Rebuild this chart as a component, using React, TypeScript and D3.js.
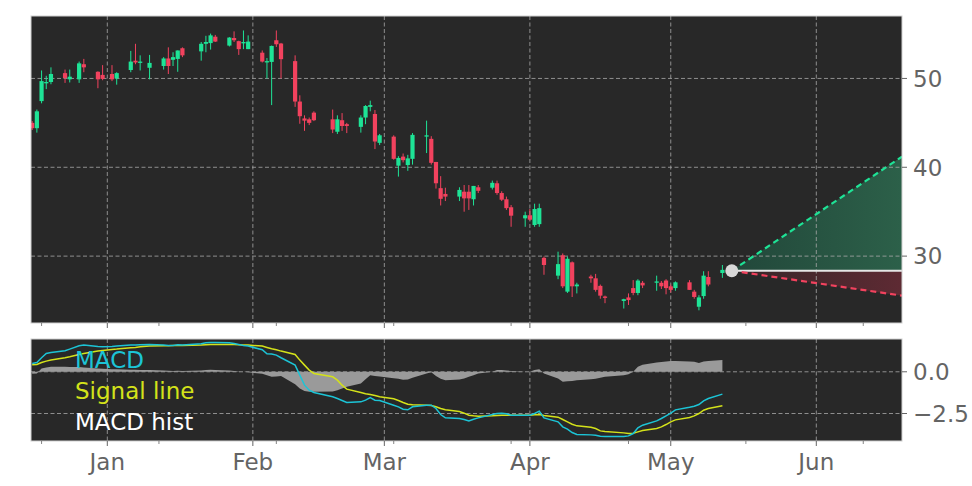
import React from 'react';
import * as d3 from 'd3';

const dates = [
  '2024-12-16','2024-12-17','2024-12-18','2024-12-19','2024-12-20','2024-12-23','2024-12-24','2024-12-26','2024-12-27','2024-12-30',
  '2024-12-31','2025-01-02','2025-01-03','2025-01-06','2025-01-07','2025-01-08','2025-01-10','2025-01-13','2025-01-14','2025-01-15',
  '2025-01-16','2025-01-17','2025-01-21','2025-01-22','2025-01-23','2025-01-24','2025-01-27','2025-01-28','2025-01-29','2025-01-30',
  '2025-01-31','2025-02-03','2025-02-04','2025-02-05','2025-02-06','2025-02-07','2025-02-10','2025-02-11','2025-02-12','2025-02-13',
  '2025-02-14','2025-02-18','2025-02-19','2025-02-20','2025-02-21','2025-02-24','2025-02-25','2025-02-26','2025-02-27','2025-02-28',
  '2025-03-03','2025-03-04','2025-03-05','2025-03-06','2025-03-07','2025-03-10','2025-03-11','2025-03-12','2025-03-13','2025-03-14',
  '2025-03-17','2025-03-18','2025-03-19','2025-03-20','2025-03-21','2025-03-24','2025-03-25','2025-03-26','2025-03-27','2025-03-28',
  '2025-03-31','2025-04-01','2025-04-02','2025-04-03','2025-04-04','2025-04-07','2025-04-08','2025-04-09','2025-04-10','2025-04-11',
  '2025-04-14','2025-04-15','2025-04-16','2025-04-17','2025-04-21','2025-04-22','2025-04-23','2025-04-24','2025-04-25','2025-04-28',
  '2025-04-29','2025-04-30','2025-05-01','2025-05-02','2025-05-05','2025-05-06','2025-05-07','2025-05-08','2025-05-09','2025-05-12'
];

const opens = [
  45.0, 44.4, 47.45, 49.45, 49.6, 50.6, 49.9, 49.9, 51.6, 50.75,
  50.4, 50.5, 50.0, 50.95, 52.0, 51.75, 51.2, 51.4, 52.25, 52.1,
  52.2, 53.4, 53.05, 53.9, 53.98, 54.7, 53.7, 54.55, 54.2, 53.95,
  53.3, 52.9, 51.8, 51.86, 54.3, 53.93, 51.95, 47.4, 45.5, 45.4,
  46.15, 45.4, 44.0, 45.3, 44.85, 44.55, 45.6, 46.8, 46.0, 42.75,
  43.45, 40.18, 41.2, 40.25, 40.95, 43.45, 43.2, 40.6, 37.65, 37.0,
  36.7, 37.25, 37.25, 36.4, 37.75, 37.7, 38.2, 37.1, 36.4, 35.5,
  34.25, 34.6, 33.5, 33.6, 29.8, 27.8, 30.1, 26.0, 29.3, 26.6,
  27.7, 27.5, 26.65, 25.45, 24.95, 25.35, 26.4, 25.85, 27.0, 27.0,
  27.0, 27.25, 26.6, 26.4, 27.05, 26.0, 24.3, 25.5, 27.65, 28.1
];

const highs = [
  45.2, 46.5, 50.9, 50.3, 51.25, 51.0, 51.0, 51.9, 52.2, 50.8,
  51.5, 51.5, 50.7, 53.1, 53.9, 52.6, 52.65, 52.4, 53.5, 52.95,
  53.15, 53.5, 54.1, 54.8, 55.05, 54.9, 54.65, 55.3, 54.25, 55.4,
  54.85, 53.15, 52.3, 53.7, 55.4, 54.0, 52.6, 48.1, 45.85, 45.6,
  46.3, 46.5, 45.85, 46.1, 45.0, 45.85, 47.0, 47.5, 46.45, 43.75,
  43.6, 41.25, 41.55, 41.4, 43.85, 45.25, 43.5, 40.6, 39.0, 37.7,
  37.75, 38.0, 38.0, 37.9, 38.0, 38.5, 38.5, 37.3, 36.7, 35.75,
  35.0, 35.3, 35.9, 35.9, 29.95, 30.5, 30.3, 29.95, 29.4, 27.0,
  27.9, 28.0, 26.8, 25.55, 25.2, 25.8, 27.3, 27.4, 27.2, 27.8,
  27.2, 27.4, 26.8, 27.15, 27.3, 26.2, 25.6, 28.3, 28.3, 29.0
];

const lows = [
  44.2, 43.9, 47.2, 48.8, 49.35, 49.5, 49.55, 49.5, 50.7, 48.9,
  49.8, 49.7, 49.3, 50.7, 51.6, 50.9, 49.9, 51.0, 50.5, 51.4,
  50.75, 52.4, 52.0, 52.95, 53.25, 54.1, 53.6, 54.1, 52.65, 53.3,
  53.3, 51.8, 50.0, 47.0, 53.55, 50.0, 46.8, 44.9, 44.1, 44.75,
  45.2, 43.85, 43.75, 44.1, 43.85, 43.9, 44.85, 46.3, 42.05, 42.5,
  40.85, 38.95, 40.55, 39.6, 40.3, 41.6, 40.3, 37.6, 35.7, 36.2,
  36.2, 35.0, 35.2, 35.7, 37.1, 37.5, 36.9, 36.2, 35.2, 33.3,
  33.3, 34.0, 33.3, 33.3, 27.9, 27.4, 26.4, 25.85, 25.4, 25.8,
  27.0, 26.0, 25.2, 24.7, 24.1, 24.5, 25.6, 25.6, 26.4, 26.1,
  26.3, 25.7, 25.9, 26.1, 26.2, 25.2, 23.9, 25.2, 26.6, 27.55
];

const closes = [
  44.4, 46.3, 49.7, 49.6, 50.5, 50.05, 50.2, 51.7, 51.25, 49.9,
  49.95, 49.9, 50.6, 51.9, 51.8, 51.9, 51.75, 52.25, 51.4, 52.4,
  53.15, 52.6, 53.9, 54.1, 54.85, 54.15, 54.6, 54.3, 53.3, 54.1,
  54.15, 51.9, 51.95, 53.66, 53.85, 52.17, 47.4, 45.75, 45.25, 45.0,
  45.3, 44.25, 45.4, 44.65, 44.65, 45.6, 46.9, 47.0, 42.9, 43.6,
  40.95, 41.05, 40.8, 41.0, 43.65, 43.6, 40.5, 38.2, 36.45, 36.7,
  37.45, 36.5, 36.5, 37.9, 37.35, 38.25, 37.1, 36.35, 35.4, 34.55,
  34.6, 34.1, 35.3, 35.4, 29.0, 29.1, 26.6, 29.7, 26.6, 26.8,
  27.5, 26.2, 25.55, 25.3, 25.15, 25.05, 25.85, 27.25, 26.7, 27.15,
  26.6, 26.4, 26.2, 27.05, 26.2, 25.4, 25.35, 27.8, 26.8, 28.45
];

const macdLine = [
  0.5, 0.56, 0.84, 1.1, 1.16, 1.26, 1.36, 1.56, 1.6, 1.52,
  1.5, 1.52, 1.54, 1.6, 1.6, 1.62, 1.64, 1.6, 1.58, 1.58,
  1.62, 1.6, 1.68, 1.74, 1.76, 1.76, 1.74, 1.7, 1.64, 1.58,
  1.54, 1.32, 1.08, 1.06, 1.0, 0.84, 0.4, -0.2, -0.8, -1.1,
  -1.24, -1.5, -1.6, -1.72, -1.84, -1.8, -1.7, -1.54, -1.7, -1.72,
  -2.0, -2.1, -2.24, -2.28, -2.1, -2.0, -2.0, -2.2, -2.56, -2.76,
  -2.8, -2.86, -2.94, -2.84, -2.76, -2.56, -2.5, -2.48, -2.52, -2.6,
  -2.6, -2.6, -2.5, -2.36, -2.76, -3.0, -3.3, -3.44, -3.64, -3.76,
  -3.78, -3.8, -3.86, -3.88, -3.88, -3.84, -3.7, -3.36, -3.2, -2.94,
  -2.8, -2.64, -2.48, -2.28, -2.12, -2.06, -1.96, -1.74, -1.6, -1.34
];

const signalLine = [
  0.42, 0.44, 0.56, 0.64, 0.7, 0.84, 0.9, 1.04, 1.1, 1.24,
  1.28, 1.34, 1.36, 1.44, 1.46, 1.5, 1.54, 1.56, 1.56, 1.58,
  1.58, 1.58, 1.6, 1.62, 1.64, 1.64, 1.64, 1.64, 1.62, 1.6,
  1.6, 1.54, 1.46, 1.38, 1.32, 1.24, 1.04, 0.7, 0.4, 0.1,
  -0.1, -0.3, -0.5, -0.8, -1.04, -1.24, -1.32, -1.36, -1.42, -1.5,
  -1.62, -1.72, -1.84, -1.94, -1.98, -2.0, -2.02, -2.1, -2.2, -2.28,
  -2.38, -2.48, -2.6, -2.64, -2.66, -2.64, -2.62, -2.6, -2.6, -2.6,
  -2.6, -2.6, -2.58, -2.56, -2.62, -2.72, -2.86, -3.0, -3.14, -3.24,
  -3.32, -3.4, -3.54, -3.58, -3.66, -3.7, -3.68, -3.6, -3.52, -3.4,
  -3.3, -3.16, -3.0, -2.88, -2.74, -2.64, -2.5, -2.3, -2.2, -2.04
];

const histValues = [
  -0.12, -0.1, 0.2, 0.25, 0.3, 0.3, 0.28, 0.28, 0.25, 0.2,
  0.18, 0.15, 0.15, 0.12, 0.12, 0.1, 0.1, 0.08, 0.06, 0.05,
  0.06, 0.05, 0.08, 0.1, 0.12, 0.1, 0.08, 0.05, 0.02, 0.0,
  -0.03, -0.12, -0.2, -0.3, -0.28, -0.25, -0.75, -1.0, -1.15, -1.2,
  -1.2, -1.18, -1.1, -1.0, -0.9, -0.7, -0.45, -0.2, -0.25, -0.28,
  -0.38, -0.42, -0.48, -0.46, -0.35, -0.1, -0.02, -0.25, -0.42, -0.5,
  -0.46, -0.4, -0.3, -0.2, -0.1, 0.0, 0.1, 0.1, 0.08, 0.05,
  0.0, 0.0, 0.1, 0.15, -0.1, -0.4, -0.6, -0.56, -0.55, -0.5,
  -0.44, -0.42, -0.35, -0.3, -0.2, -0.15, 0.0, 0.3, 0.42, 0.55,
  0.58, 0.62, 0.64, 0.65, 0.62, 0.6, 0.52, 0.62, 0.64, 0.7
];

const priceTicks = [30, 40, 50];
const macdTicks = [0, -2.5];
const macdTickLabels = ['0.0', '\u22122.5'];
const monthTicks = ['2025-01-01', '2025-02-01', '2025-03-01', '2025-04-01', '2025-05-01', '2025-06-01'];
const monthLabels = ['Jan', 'Feb', 'Mar', 'Apr', 'May', 'Jun'];
const minorTicks = ['2024-12-18', '2025-01-12', '2025-02-06', '2025-03-03', '2025-03-28', '2025-04-22', '2025-05-17', '2025-06-11'];

const projectionStart = '2025-05-14';
const projectionBase = 28.35;
const projectionUp = 41.2;
const projectionDown = 25.55;

const legendItems = ['MACD', 'Signal line', 'MACD hist'];

const parse = d3.timeParse('%Y-%m-%d');

export default function App() {
  const W = 972, H = 486;
  const L = 31, R = 902;
  const mainTop = 16, mainBot = 323;
  const macdTop = 339, macdBot = 441;

  const domainStart = new Date(2024, 11, 15, 18);
  const domainEnd = new Date(2025, 5, 19, 6);
  const x = d3.scaleTime().domain([domainStart, domainEnd]).range([L, R]);
  const y = d3.scaleLinear().domain([22.47, 57.03]).range([mainBot, mainTop]);
  const ym = d3.scaleLinear().domain([-4.147, 1.965]).range([macdBot, macdTop]);

  const ds = dates.map((d) => parse(d) as Date);

  const green = '#1ee396';
  const red = '#f2425e';
  const bg = '#282828';
  const gridColor = '#a8a8a8';
  const textColor = '#646464';
  const cyan = '#1cc4d6';
  const yellow = '#d4e21a';
  const font = 'DejaVu Sans, sans-serif';

  const idx = d3.range(ds.length);
  const macdPath = d3.line<number>().x((i) => x(ds[i])).y((i) => ym(macdLine[i]))(idx) || '';
  const sigPath = d3.line<number>().x((i) => x(ds[i])).y((i) => ym(signalLine[i]))(idx) || '';
  const histPath = d3.area<number>().x((i) => x(ds[i])).y0(ym(0)).y1((i) => ym(histValues[i]))(idx) || '';

  const px0 = x(parse(projectionStart) as Date);
  const px1 = x(domainEnd);
  const pyBase = y(projectionBase);
  const pyUp = y(projectionUp);
  const pyDown = y(projectionDown);

  const bodyW = 4.2;

  return (
    <svg width={W} height={H} style={{ position: 'absolute', left: 0, top: 0, background: '#ffffff' }} fontFamily={font}>
      <defs>
        <linearGradient id="gUp" gradientUnits="userSpaceOnUse" x1={px0} y1={0} x2={px1} y2={0}>
          <stop offset="0%" stopColor="#22473a" />
          <stop offset="100%" stopColor="#2c6049" />
        </linearGradient>
        <linearGradient id="gDown" gradientUnits="userSpaceOnUse" x1={px0} y1={0} x2={px1} y2={0}>
          <stop offset="0%" stopColor="#352628" />
          <stop offset="100%" stopColor="#5e2a33" />
        </linearGradient>
        <clipPath id="clipMain"><rect x={L} y={mainTop} width={R - L} height={mainBot - mainTop} /></clipPath>
        <clipPath id="clipMacd"><rect x={L} y={macdTop} width={R - L} height={macdBot - macdTop} /></clipPath>
      </defs>

      {/* main panel */}
      <rect x={L} y={mainTop} width={R - L} height={mainBot - mainTop} fill={bg} />
      <g clipPath="url(#clipMain)">
        <path d={`M${px0},${pyBase}L${px1},${pyUp}L${px1},${pyBase}Z`} fill="url(#gUp)" />
        <path d={`M${px0},${pyBase}L${px1},${pyDown}L${px1},${pyBase}Z`} fill="url(#gDown)" />
        {priceTicks.map((t) => (
          <line key={'pg' + t} x1={L} x2={R} y1={y(t)} y2={y(t)} stroke={gridColor} strokeWidth={0.8} strokeDasharray="4,2.5" />
        ))}
        {monthTicks.map((t) => (
          <line key={'mg' + t} x1={x(parse(t) as Date)} x2={x(parse(t) as Date)} y1={mainTop} y2={mainBot} stroke={gridColor} strokeWidth={0.8} strokeDasharray="4,2.5" />
        ))}
        {ds.map((d, i) => {
          const up = closes[i] >= opens[i];
          const c = up ? green : red;
          const cx = x(d);
          const top = y(Math.max(opens[i], closes[i]));
          const bot = y(Math.min(opens[i], closes[i]));
          return (
            <g key={'c' + i}>
              <line x1={cx} x2={cx} y1={y(highs[i])} y2={y(lows[i])} stroke={c} strokeWidth={1} />
              <rect x={cx - bodyW / 2} y={top} width={bodyW} height={Math.max(1, bot - top)} fill={c} />
            </g>
          );
        })}
        <line x1={px0} x2={px1} y1={pyBase} y2={pyBase} stroke="#e6e6e6" strokeWidth={2} />
        <line x1={px0} x2={px1} y1={pyBase} y2={pyUp} stroke={green} strokeWidth={2.2} strokeDasharray="6,4" />
        <line x1={px0} x2={px1} y1={pyBase} y2={pyDown} stroke={red} strokeWidth={2.2} strokeDasharray="6,4" />
        <circle cx={px0} cy={pyBase} r={6.5} fill="#d8d8d8" />
      </g>
      <rect x={L} y={mainTop} width={R - L} height={mainBot - mainTop} fill="none" stroke="#d0d0d0" strokeWidth={1} />
      {priceTicks.map((t) => (
        <g key={'pt' + t}>
          <line x1={R} x2={R + 5} y1={y(t)} y2={y(t)} stroke={textColor} strokeWidth={1} />
          <text x={R + 11} y={y(t)} dy="0.36em" fontSize={23} fill={textColor}>{t}</text>
        </g>
      ))}
      {monthTicks.map((t) => (
        <line key={'mt' + t} x1={x(parse(t) as Date)} x2={x(parse(t) as Date)} y1={mainBot} y2={mainBot + 5} stroke={textColor} strokeWidth={1} />
      ))}
      {minorTicks.map((t) => (
        <line key={'nt' + t} x1={x(parse(t) as Date)} x2={x(parse(t) as Date)} y1={mainBot} y2={mainBot + 3} stroke={textColor} strokeWidth={0.8} />
      ))}

      {/* MACD panel */}
      <rect x={L} y={macdTop} width={R - L} height={macdBot - macdTop} fill={bg} />
      <g clipPath="url(#clipMacd)">
        {macdTicks.map((t) => (
          <line key={'mgh' + t} x1={L} x2={R} y1={ym(t)} y2={ym(t)} stroke={gridColor} strokeWidth={0.8} strokeDasharray="4,2.5" />
        ))}
        {monthTicks.map((t) => (
          <line key={'mgv' + t} x1={x(parse(t) as Date)} x2={x(parse(t) as Date)} y1={macdTop} y2={macdBot} stroke={gridColor} strokeWidth={0.8} strokeDasharray="4,2.5" />
        ))}
        <path d={histPath} fill="#9a9a9a" />
        <path d={sigPath} fill="none" stroke={yellow} strokeWidth={1.5} />
        <path d={macdPath} fill="none" stroke={cyan} strokeWidth={1.5} />
        {legendItems.map((t, i) => (
          <text key={'lg' + t} x={75} y={368 + i * 31} fontSize={23} fill={[cyan, yellow, '#ffffff'][i]}>{t}</text>
        ))}
      </g>
      <rect x={L} y={macdTop} width={R - L} height={macdBot - macdTop} fill="none" stroke="#d0d0d0" strokeWidth={1} />
      {macdTicks.map((t, i) => (
        <g key={'mtk' + t}>
          <line x1={R} x2={R + 5} y1={ym(t)} y2={ym(t)} stroke={textColor} strokeWidth={1} />
          <text x={R + 11} y={ym(t)} dy="0.36em" fontSize={23} fill={textColor}>{macdTickLabels[i]}</text>
        </g>
      ))}
      {monthTicks.map((t, i) => (
        <g key={'xl' + t}>
          <line x1={x(parse(t) as Date)} x2={x(parse(t) as Date)} y1={macdBot} y2={macdBot + 5} stroke={textColor} strokeWidth={1} />
          <text x={x(parse(t) as Date)} y={470} textAnchor="middle" fontSize={23} fill={textColor}>{monthLabels[i]}</text>
        </g>
      ))}
      {minorTicks.map((t) => (
        <line key={'mnt' + t} x1={x(parse(t) as Date)} x2={x(parse(t) as Date)} y1={macdBot} y2={macdBot + 3} stroke={textColor} strokeWidth={0.8} />
      ))}
    </svg>
  );
}
